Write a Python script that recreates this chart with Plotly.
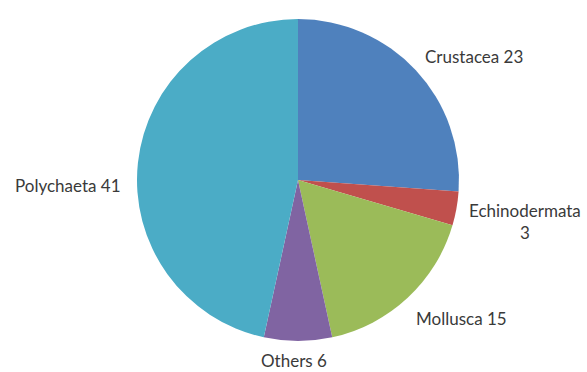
import plotly.graph_objects as go

categories = ["Crustacea", "Echinodermata", "Mollusca", "Others", "Polychaeta"]
values = [23, 3, 15, 6, 41]
label_texts = ["Crustacea 23", "Echinodermata<br>3", "Mollusca 15", "Others 6", "Polychaeta 41"]
colors = ["#4F81BD", "#C0504D", "#9BBB59", "#8064A2", "#4BACC6"]

W, H = 587, 372
cx, cy, r = 298, 180, 161

fig = go.Figure(go.Pie(
    labels=categories,
    values=values,
    sort=False,
    direction="clockwise",
    rotation=0,
    marker=dict(colors=colors, line=dict(width=0)),
    textinfo="none",
    hoverinfo="label+value",
    domain=dict(x=[(cx - r) / W, (cx + r) / W], y=[1 - (cy + r) / H, 1 - (cy - r) / H]),
    showlegend=False,
))

label_pos = [(474, 57), (525, 221), (461, 318), (294, 360), (68, 185)]
for txt, (x, y) in zip(label_texts, label_pos):
    fig.add_annotation(x=x / W, y=1 - y / H, xref="paper", yref="paper", text=txt,
                       showarrow=False, xanchor="center", yanchor="middle",
                       font=dict(family="Lato", size=17, color="#3a3a3a"))

fig.update_layout(width=W, height=H, margin=dict(l=0, r=0, t=0, b=0),
                  paper_bgcolor="white", plot_bgcolor="white")
fig.write_html("out.html", config={"displayModeBar": False})

with open("out.html", "r", encoding="utf-8") as f:
    html = f.read()
html = html.replace("<body>", "<body style=\"margin:0;padding:0;\">", 1)
with open("out.html", "w", encoding="utf-8") as f:
    f.write(html)
